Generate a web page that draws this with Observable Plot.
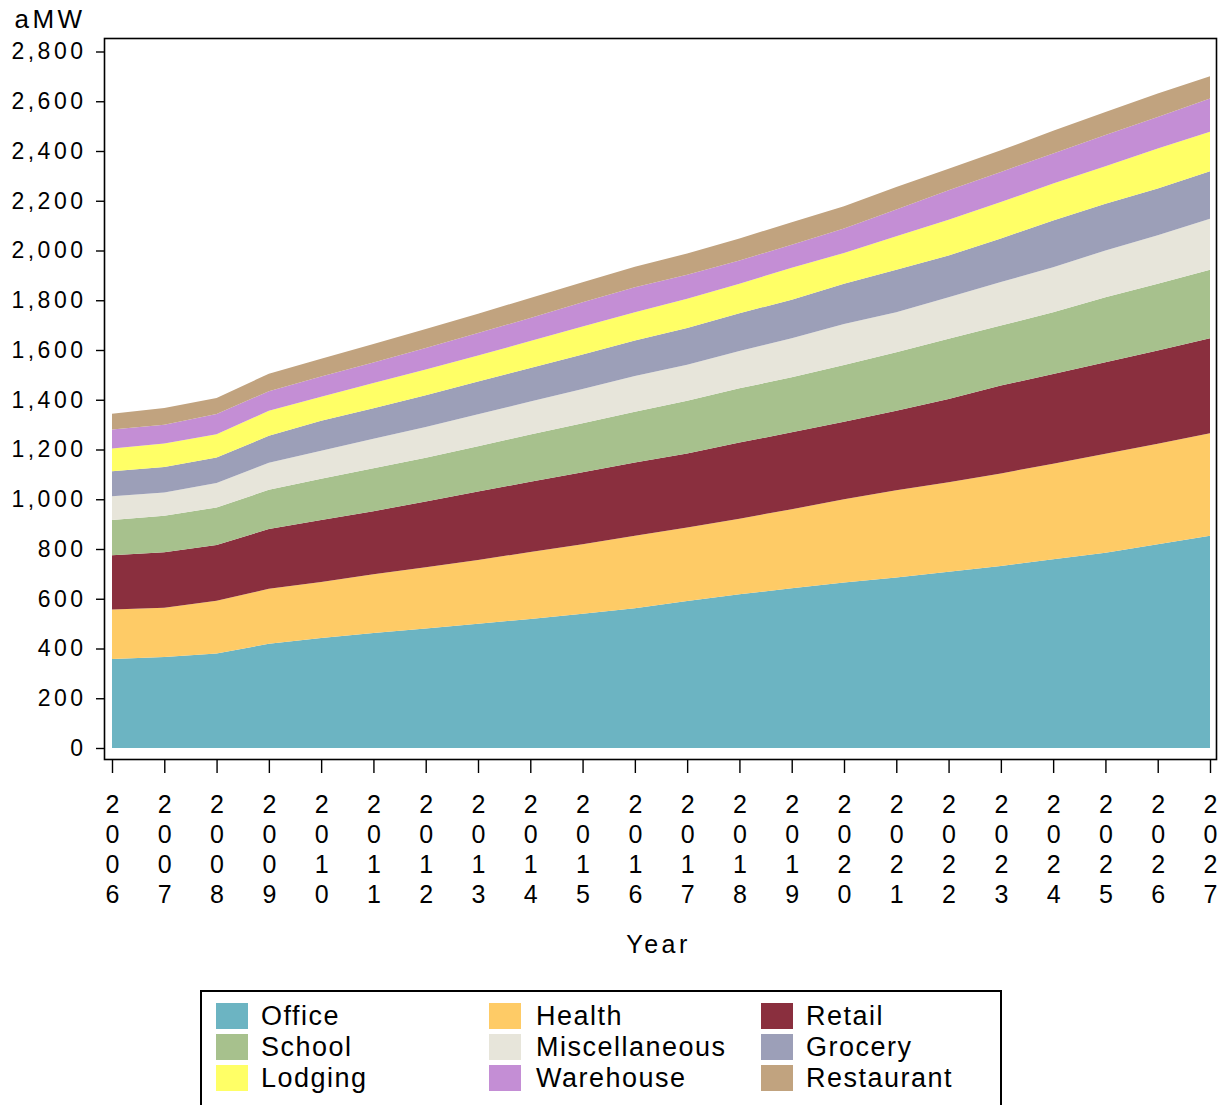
<!DOCTYPE html>
<html>
<head>
<meta charset="utf-8">
<script src="https://cdn.jsdelivr.net/npm/d3@7"></script>
<script src="https://cdn.jsdelivr.net/npm/@observablehq/plot@0.6"></script>
<style>
  html, body { margin: 0; padding: 0; background: #fff; }
  body { position: relative; width: 1221px; height: 1105px; overflow: hidden; font-family: "Liberation Sans", Arial, sans-serif; }
  #chart { position: absolute; left: 0; top: 0; }
  #legend { position: absolute; left: 200px; top: 990px; width: 802px; height: 140px; box-sizing: border-box; border: 2px solid #000; }
  .sw { position: absolute; width: 32px; height: 26px; }
  .lt { position: absolute; font-size: 27px; letter-spacing: 1.5px; line-height: 30px; color: #000; white-space: nowrap; }
</style>
</head>
<body>
<div id="chart"></div>
<div id="legend"></div>
<script>
const years = [2006, 2007, 2008, 2009, 2010, 2011, 2012, 2013, 2014, 2015, 2016,
               2017, 2018, 2019, 2020, 2021, 2022, 2023, 2024, 2025, 2026, 2027];
const categories = ["Office", "Health", "Retail", "School", "Miscellaneous", "Grocery", "Lodging", "Warehouse", "Restaurant"];
const colors = ["#6cb4c2", "#fecb66", "#8a2f3e", "#a7c18d", "#e7e5da", "#9c9fb8", "#ffff66", "#c48ed5", "#c1a37f"];

const office     = [358, 366, 380, 419, 442, 462, 480, 499, 519, 540, 562, 591, 618, 642, 665, 685, 709, 732, 759, 785, 819, 853];
const health     = [199, 198, 212, 221, 225, 236, 247, 257, 269, 279, 291, 295, 304, 318, 335, 351, 359, 372, 384, 398, 404, 412];
const retail     = [218, 223, 224, 240, 250, 254, 264, 275, 282, 290, 295, 298, 306, 309, 312, 320, 335, 353, 361, 368, 375, 382];
const school     = [142, 147, 151, 158, 165, 173, 176, 182, 190, 197, 204, 212, 218, 221, 228, 235, 242, 241, 248, 261, 268, 276];
const misc       = [95, 93, 98, 109, 113, 118, 123, 129, 133, 137, 143, 145, 150, 157, 165, 161, 167, 175, 181, 188, 195, 205];
const grocery    = [101, 103, 103, 108, 121, 123, 128, 131, 135, 139, 143, 147, 152, 155, 161, 171, 168, 175, 188, 188, 188, 191];
const lodging    = [91, 94, 93, 101, 96, 101, 104, 105, 108, 112, 114, 118, 118, 129, 124, 134, 144, 147, 148, 151, 161, 158];
const warehouse  = [76, 76, 82, 78, 81, 83, 86, 90, 93, 98, 100, 97, 94, 92, 98, 108, 118, 121, 121, 125, 127, 134];
const restaurant = [64, 67, 64, 71, 72, 74, 76, 78, 80, 80, 83, 85, 88, 91, 90, 90, 87, 87, 91, 93, 94, 90];

const yTicks = [0, 200, 400, 600, 800, 1000, 1200, 1400, 1600, 1800, 2000, 2200, 2400, 2600, 2800];

const seriesList = [office, health, retail, school, misc, grocery, lodging, warehouse, restaurant];
const data = years.flatMap((yr, i) => categories.map((c, j) => ({year: yr, category: c, value: seriesList[j][i]})));

const chart = Plot.plot({
  width: 1221,
  height: 975,
  marginLeft: 104,
  marginRight: 5,
  marginTop: 38,
  marginBottom: 216,
  style: {fontFamily: "'Liberation Sans', Arial, sans-serif", color: "#000", background: "#fff"},
  x: {type: "linear", domain: [2006, 2027], insetLeft: 8, insetRight: 6},
  y: {domain: [0, 2800], insetTop: 13.5, insetBottom: 11},
  color: {domain: categories, range: colors},
  marks: [
    Plot.areaY(data, {x: "year", y: "value", fill: "category", order: categories, curve: "linear"}),
    Plot.frame({stroke: "#000", strokeWidth: 1.6}),
    Plot.axisY({ticks: yTicks, tickSize: 8, tickPadding: 10, tickFormat: d3.format(","), fontSize: 23, label: null, strokeWidth: 1.4}),
    Plot.axisX({ticks: years, tickSize: 14, tickPadding: 18, tickFormat: d => String(d).split("").join("\n"), lineHeight: 1.2, fontSize: 25, label: null, strokeWidth: 1.4}),
    Plot.text(["Year"], {frameAnchor: "bottom", dy: 193, dx: -2, fontSize: 25, text: d => d}),
    Plot.text(["aMW"], {frameAnchor: "top-left", dx: -90, dy: -29, textAnchor: "start", fontSize: 26, text: d => d})
  ]
});
document.getElementById("chart").appendChild(chart);

d3.select(chart).selectAll('[aria-label="y-axis tick label"] text').style("letter-spacing", "3.5px");
d3.select(chart).selectAll('[aria-label="text"] text').style("letter-spacing", "3.5px");

// Legend
const legend = document.getElementById("legend");
const swX = [14, 287, 559];
const txX = [59, 334, 604];
const rowY = [11, 42, 73];
categories.forEach((c, k) => {
  const col = k % 3, row = Math.floor(k / 3);
  const sw = document.createElement("div");
  sw.className = "sw";
  sw.style.left = swX[col] + "px";
  sw.style.top = rowY[row] + "px";
  sw.style.background = colors[k];
  legend.appendChild(sw);
  const t = document.createElement("div");
  t.className = "lt";
  t.style.left = txX[col] + "px";
  t.style.top = (rowY[row] - 2) + "px";
  t.textContent = c;
  legend.appendChild(t);
});
</script>
</body>
</html>
